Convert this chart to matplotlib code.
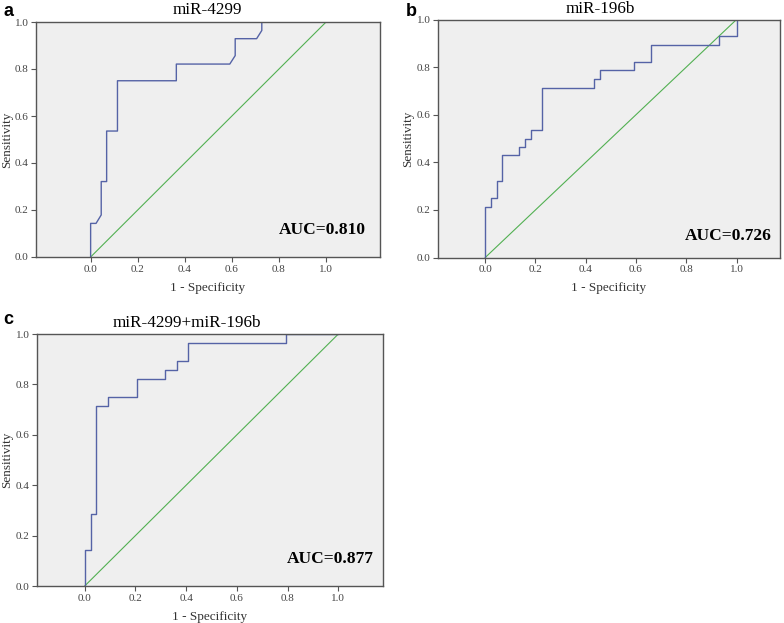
import matplotlib
matplotlib.use("Agg")
from matplotlib import pyplot as plt

# ################ Data. ################ #
titles = ["miR-4299", "miR-196b", "miR-4299+miR-196b"]
panel_letters = ["a", "b", "c"]
auc_values = ["0.810", "0.726", "0.877"]

fpr_4299 = [0, 0, 0.023, 0.045, 0.045, 0.068, 0.068, 0.114, 0.114, 0.364, 0.364,
            0.591, 0.614, 0.614, 0.705, 0.727, 0.727, 1.0]
tpr_4299 = [0, 0.143, 0.143, 0.179, 0.321, 0.321, 0.536, 0.536, 0.75, 0.75, 0.821,
            0.821, 0.857, 0.929, 0.929, 0.964, 1.0, 1.0]

fpr_196b = [0, 0, 0.023, 0.023, 0.045, 0.045, 0.068, 0.068, 0.136, 0.136, 0.159, 0.159,
            0.182, 0.182, 0.227, 0.227, 0.432, 0.432, 0.455, 0.455, 0.591, 0.591,
            0.659, 0.659, 0.932, 0.932, 1.0, 1.0]
tpr_196b = [0, 0.214, 0.214, 0.25, 0.25, 0.321, 0.321, 0.429, 0.429, 0.464, 0.464, 0.5,
            0.5, 0.536, 0.536, 0.714, 0.714, 0.75, 0.75, 0.786, 0.786, 0.821,
            0.821, 0.893, 0.893, 0.929, 0.929, 1.0]

fpr_combined = [0, 0, 0.023, 0.023, 0.045, 0.045, 0.091, 0.091, 0.205, 0.205, 0.318,
                0.318, 0.364, 0.364, 0.409, 0.409, 0.795, 0.795, 1.0]
tpr_combined = [0, 0.143, 0.143, 0.286, 0.286, 0.714, 0.714, 0.75, 0.75, 0.821, 0.821,
                0.857, 0.857, 0.893, 0.893, 0.964, 0.964, 1.0, 1.0]

ticks = [0.0, 0.2, 0.4, 0.6, 0.8, 1.0]

# ################ Layout (pixels of the 784x623 figure). ################ #
W, H = 784, 623
# left, right, top, bottom of each plot frame
frames = [(36, 380, 22, 257), (438, 780, 19.5, 257.5), (37, 383, 334, 586)]
xlims = [(-0.232, 1.229), (-0.188, 1.173), (-0.188, 1.176)]
auc_pos = [(0.959, 0.115), (0.977, 0.09), (0.972, 0.106)]
letter_pos = [(3, 3), (406, 3), (3, 311)]
title_pos = [(207, 10), (600, 9), (187, 323)]
ylabel_x = [13, 414, 13]

SERIF = "Liberation Serif"
BLUE = "#5563a6"
GREEN = "#52b052"
FRAME = "#555555"

fig = plt.figure(figsize=(W / 100, H / 100), dpi=100)

curves = [(fpr_4299, tpr_4299), (fpr_196b, tpr_196b), (fpr_combined, tpr_combined)]

for i in range(3):
    l, r, t, b = frames[i]
    ax = fig.add_axes([l / W, 1 - b / H, (r - l) / W, (b - t) / H])
    ax.set_facecolor("#efefef")

    ax.plot([0, 1], [0, 1], color=GREEN, linewidth=0.8)
    ax.plot(curves[i][0], curves[i][1], color=BLUE, linewidth=1.0)

    ax.set_xlim(*xlims[i])
    ax.set_ylim(0, 1)
    ax.set_xticks(ticks)
    ax.set_yticks(ticks)
    ax.set_xticklabels([f"{v:.1f}" for v in ticks])
    ax.set_yticklabels([f"{v:.1f}" for v in ticks])
    ax.tick_params(direction="out", length=3.5, width=0.8, color=FRAME,
                   labelsize=8, labelcolor="#444444", pad=2)
    for lab in ax.get_xticklabels() + ax.get_yticklabels():
        lab.set_family(SERIF)
    for spine in ax.spines.values():
        spine.set_color(FRAME)
        spine.set_linewidth(1.0)

    ax.set_xlabel("1 - Specificity", family=SERIF, fontsize=9.5, color="#333333", labelpad=6)

    # y label placed by figure pixel, like the original layout
    fig.text(ylabel_x[i] / W, 1 - (t + b) / 2 / H, "Sensitivity", rotation=90,
             ha="right", va="center", family=SERIF, fontsize=9.5, color="#333333")

    fig.text(title_pos[i][0] / W, 1 - title_pos[i][1] / H, titles[i],
             ha="center", va="center", family=SERIF, fontsize=12.3)

    ax.text(auc_pos[i][0], auc_pos[i][1], "AUC=" + auc_values[i], transform=ax.transAxes,
            ha="right", va="center", family=SERIF, fontweight="bold", fontsize=12.5)

    fig.text(letter_pos[i][0] / W, 1 - letter_pos[i][1] / H, panel_letters[i],
             ha="left", va="top", family="Liberation Sans", fontweight="bold", fontsize=13)

fig.savefig("out.png", dpi=100)
